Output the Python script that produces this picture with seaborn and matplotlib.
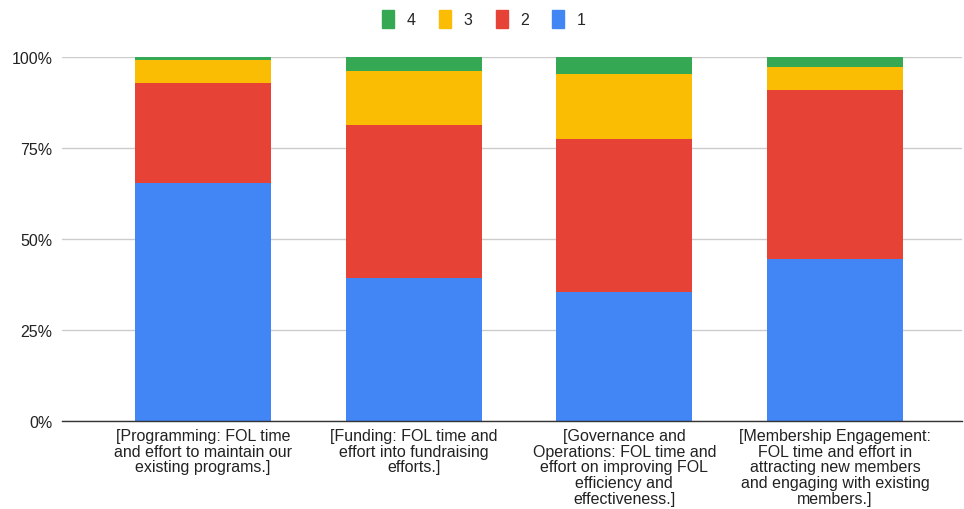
import numpy as np
import pandas as pd
import matplotlib
matplotlib.use('Agg')
import matplotlib.pyplot as plt
import matplotlib.patches as mpatches
import seaborn as sns

categories = [
    '[Programming: FOL time\nand effort to maintain our\nexisting programs.]',
    '[Funding: FOL time and\neffort into fundraising\nefforts.]',
    '[Governance and\nOperations: FOL time and\neffort on improving FOL\nefficiency and\neffectiveness.]',
    '[Membership Engagement:\nFOL time and effort in\nattracting new members\nand engaging with existing\nmembers.]',
]
rating_1 = [65.2, 39.3, 35.5, 44.5]
rating_2 = [27.5, 41.9, 42.0, 46.3]
rating_3 = [6.3, 14.8, 17.7, 6.3]
rating_4 = [1.0, 4.0, 4.8, 2.9]

colors = {'1': '#4285F4', '2': '#E64336', '3': '#FBBC04', '4': '#34A853'}

df = pd.DataFrame({'category': categories, '1': rating_1, '2': rating_2,
                   '3': rating_3, '4': rating_4})
# cumulative tops for stacking
df['c1'] = df['1']
df['c2'] = df['c1'] + df['2']
df['c3'] = df['c2'] + df['3']
df['c4'] = df['c3'] + df['4']

sns.set_style('white')
plt.rcParams['font.family'] = ['Liberation Sans', 'DejaVu Sans']

fig = plt.figure(figsize=(9.64, 5.10), dpi=100)
ax = fig.add_axes([62 / 964, 1 - 422 / 510, 900 / 964, (422 - 57.7) / 510])

for key in ['4', '3', '2', '1']:
    sns.barplot(data=df, x='category', y='c' + key, color=colors[key],
                width=0.645, saturation=1, ax=ax, linewidth=0)

ax.set_xlim(-0.669, 3.603)
ax.set_ylim(0, 100)
ax.set_yticks([0, 25, 50, 75, 100])
ax.set_yticklabels(['0%', '25%', '50%', '75%', '100%'])
ax.yaxis.grid(True, color='#cccccc', linewidth=1)
ax.set_axisbelow(True)
for s in ['top', 'right', 'left']:
    ax.spines[s].set_visible(False)
ax.spines['bottom'].set_color('#333333')
ax.spines['bottom'].set_linewidth(1)
ax.tick_params(axis='both', length=0, labelsize=11.5, colors='#222222')
ax.tick_params(axis='y', pad=7)
ax.tick_params(axis='x', pad=5)
for lbl in ax.get_xticklabels():
    lbl.set_linespacing(1.06)
ax.set_xlabel('')
ax.set_ylabel('')

handles = [mpatches.Patch(color=colors[k], label=k) for k in ['4', '3', '2', '1']]
fig.legend(handles=handles, loc='center', bbox_to_anchor=(0.502, 1 - 20 / 510),
           ncol=4, frameon=False, fontsize=11.5, handlelength=0.75,
           handleheight=1.4, handletextpad=0.8, columnspacing=1.45)

fig.savefig('out.png', dpi=100)
